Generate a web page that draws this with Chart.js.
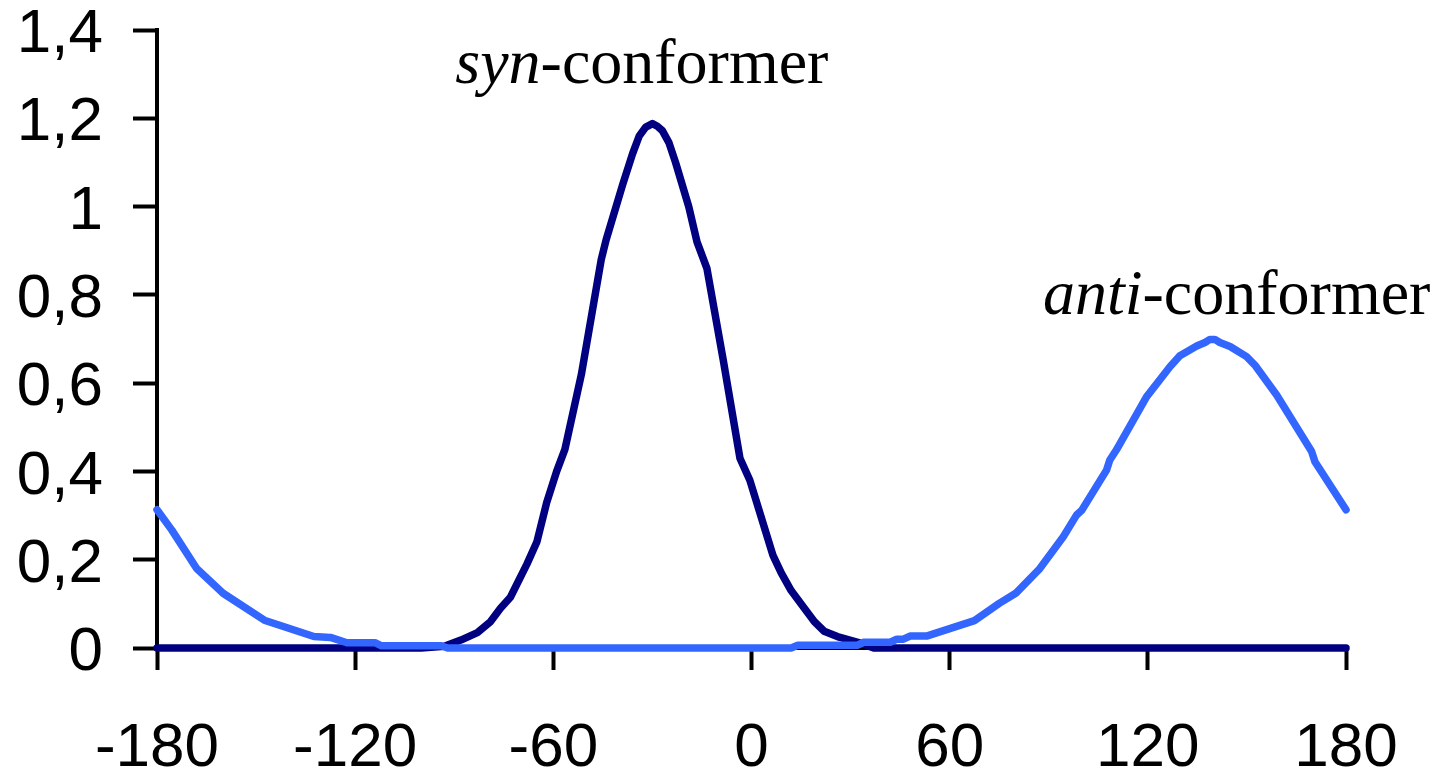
<!DOCTYPE html>
<html>
<head>
<meta charset="utf-8">
<script src="https://cdn.jsdelivr.net/npm/chart.js@4/dist/chart.umd.min.js"></script>
<style>
  html, body { margin: 0; padding: 0; background: #fff; }
  #wrap { width: 1438px; height: 781px; }
</style>
</head>
<body>
<div id="wrap"><canvas id="chart" width="1438" height="781"></canvas></div>
<script>
// ─── Data ─────────────────────────────────────────────────────────────────────

const xTicks      = [-180, -120, -60, 0, 60, 120, 180];
const yTicks      = [0, 0.2, 0.4, 0.6, 0.8, 1, 1.2, 1.4];
const yTickLabels = ['0', '0,2', '0,4', '0,6', '0,8', '1', '1,2', '1,4'];

// syn-conformer (dark navy)
const synAngles = [-180, -100, -93, -88, -83, -79, -76, -73, -71, -68, -65, -62, -59, -56.5,
  -51.5, -45.5, -44, -39, -36, -34, -32, -30, -28.5, -27, -25, -23, -19, -16.5, -13.5,
  -8.5, -3.5, -0.5, 6.5, 9, 12, 16, 19, 22, 26, 33, 37, 180];
const synValues = [0, 0, 0.004, 0.018, 0.035, 0.06, 0.09, 0.115, 0.145, 0.19, 0.24, 0.33, 0.40, 0.45,
  0.62, 0.88, 0.925, 1.05, 1.12, 1.16, 1.18, 1.188, 1.182, 1.172, 1.145, 1.10, 1.0, 0.92, 0.86,
  0.65, 0.43, 0.38, 0.21, 0.17, 0.13, 0.09, 0.06, 0.038, 0.026, 0.011, 0, 0];

// anti-conformer (light blue)
const antiAngles = [-180, -175.5, -168, -160, -147.5, -132.5, -127.5, -122.5, -114, -112, -94, -92,
  12, 14, 32, 34, 42, 44, 46, 48, 53, 67.5, 75, 80, 87.3, 94.4, 98.4, 100, 107.5, 108.5, 110.5,
  119.6, 126.7, 129.7, 134.8, 137.3, 138.8, 140.3, 141.8, 144.9, 149.9, 152.4, 159, 169.6, 170.6, 180];
const antiValues = [0.313, 0.267, 0.18, 0.124, 0.063, 0.026, 0.024, 0.012, 0.012, 0.005, 0.005, 0,
  0, 0.006, 0.006, 0.013, 0.013, 0.02, 0.02, 0.027, 0.027, 0.062, 0.101, 0.124, 0.18, 0.252, 0.301, 0.312, 0.403, 0.426, 0.449,
  0.569, 0.637, 0.662, 0.684, 0.692, 0.699, 0.699, 0.692, 0.683, 0.66, 0.641, 0.573, 0.445, 0.422, 0.313];

// ─── Annotation labels (italic prefix + roman suffix) ─────────────────────────

const peakLabels = [
  { italic: 'syn',  rest: '-conformer', x: -33.2, y: 1.28 },
  { italic: 'anti', rest: '-conformer', x: 146.9, y: 0.757 },
];

const labelPlugin = {
  id: 'peakLabels',
  afterDraw(chart) {
    const { ctx, scales: { x, y } } = chart;
    const itFont = 'italic 64px "Liberation Serif", "Times New Roman", serif';
    const rmFont = '64px "Liberation Serif", "Times New Roman", serif';
    ctx.save();
    ctx.fillStyle = '#000';
    ctx.textBaseline = 'alphabetic';
    ctx.textAlign = 'left';
    peakLabels.forEach(l => {
      ctx.font = itFont;
      const wi = ctx.measureText(l.italic).width;
      ctx.font = rmFont;
      const wr = ctx.measureText(l.rest).width;
      const left = x.getPixelForValue(l.x) - (wi + wr) / 2;
      const base = y.getPixelForValue(l.y);
      ctx.font = itFont;
      ctx.fillText(l.italic, left, base);
      ctx.font = rmFont;
      ctx.fillText(l.rest, left + wi, base);
    });
    ctx.restore();
  },
};

// ─── Chart ────────────────────────────────────────────────────────────────────

Chart.defaults.font.family = '"Liberation Sans", Arial, sans-serif';
Chart.defaults.color = '#000';

const toPoints = (xs, ys) => xs.map((v, i) => ({ x: v, y: ys[i] }));

new Chart(document.getElementById('chart'), {
  type: 'line',
  data: {
    datasets: [
      {
        label: 'anti',
        data: toPoints(antiAngles, antiValues),
        borderColor: '#3366FF',
        borderWidth: 7.5,
        borderCapStyle: 'round',
        borderJoinStyle: 'round',
        pointRadius: 0,
        tension: 0,
        fill: false,
        clip: 8,
      },
      {
        label: 'syn',
        data: toPoints(synAngles, synValues),
        borderColor: '#000080',
        borderWidth: 7.5,
        borderCapStyle: 'round',
        borderJoinStyle: 'round',
        pointRadius: 0,
        tension: 0,
        fill: false,
        clip: 8,
      },
    ],
  },
  options: {
    responsive: false,
    animation: false,
    devicePixelRatio: 1,
    layout: { padding: { top: 30, right: 92, left: 0, bottom: 0 } },
    plugins: { legend: { display: false }, tooltip: { enabled: false } },
    scales: {
      x: {
        type: 'linear',
        min: -180,
        max: 180,
        afterBuildTicks: s => { s.ticks = xTicks.map(v => ({ value: v })); },
        afterFit: s => { s.height = 133; s.paddingLeft = 0; s.paddingRight = 0; },
        border: { display: true, color: '#000', width: 4 },
        grid: { drawOnChartArea: false, drawTicks: true, tickLength: 22, tickWidth: 4, tickColor: '#000' },
        ticks: {
          autoSkip: false,
          maxRotation: 0,
          padding: 51,
          font: { size: 62, lineHeight: 0.9 },
          callback: v => String(v),
        },
      },
      y: {
        min: 0,
        max: 1.4,
        afterBuildTicks: s => { s.ticks = yTicks.map(v => ({ value: v })); },
        afterFit: s => { s.width = 157; s.paddingTop = 0; s.paddingBottom = 0; },
        border: { display: true, color: '#000', width: 4 },
        grid: { drawOnChartArea: false, drawTicks: true, tickLength: 24, tickWidth: 4, tickColor: '#000' },
        ticks: {
          padding: 30,
          labelOffset: 5,
          font: { size: 62, lineHeight: 0.9 },
          callback: (v, i) => yTickLabels[i],
        },
      },
    },
  },
  plugins: [labelPlugin],
});
</script>
</body>
</html>
